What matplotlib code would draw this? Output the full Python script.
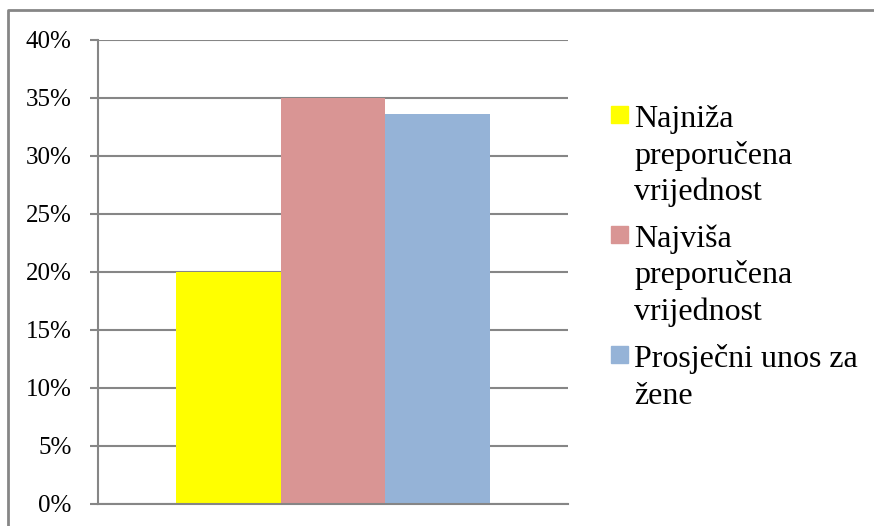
import numpy as np
import matplotlib
matplotlib.use('Agg')
import matplotlib.pyplot as plt
from matplotlib.patches import Rectangle
from matplotlib.lines import Line2D
from matplotlib.ticker import FuncFormatter

plt.rcParams['font.family'] = 'serif'
plt.rcParams['font.serif'] = ['Liberation Serif', 'Times New Roman', 'DejaVu Serif']

series = ['Najniža\npreporučena\nvrijednost',
          'Najviša\npreporučena\nvrijednost',
          'Prosječni unos za\nžene']
values = [20.0, 35.0, 33.6]
colors = ['#FFFF00', '#D99594', '#95B3D7']
yticks = [0, 5, 10, 15, 20, 25, 30, 35, 40]

W, H = 874, 526
fig = plt.figure(figsize=(W / 100, H / 100), dpi=100)
ax = fig.add_axes([98 / W, 1 - 504 / H, 470 / W, 464 / H])

# one category, three bars side by side (gap width 50%)
width = (2 / 3) / len(values)
offsets = (np.arange(len(values)) - (len(values) - 1) / 2) * width
for off, v, c in zip(offsets, values, colors):
    ax.bar(off, v, width=width, color=c, zorder=2)

ax.set_xlim(-0.5, 0.5)
ax.set_ylim(0, 40)
ax.set_yticks(yticks)
ax.yaxis.set_major_formatter(FuncFormatter(lambda v, p: f'{v:.0f}%'))
ax.set_xticks([])
ax.grid(axis='y', color='#868686', linewidth=1.5, zorder=0)
for s in ['top', 'right']:
    ax.spines[s].set_visible(False)
for s in ['left', 'bottom']:
    ax.spines[s].set_color('#868686')
    ax.spines[s].set_linewidth(1.5)
ax.tick_params(axis='y', direction='out', length=6, width=1.5, color='#868686',
               pad=13, labelsize=18)

# legend drawn by hand so the key sits next to the first line
for i, (lab, c) in enumerate(zip(series, colors)):
    base = 127 + i * 120
    fig.patches.append(Rectangle((611 / W, 1 - (base - 4) / H), 17 / W, 17 / H,
                                 transform=fig.transFigure, color=c))
    for j, line in enumerate(lab.split('\n')):
        fig.text(634 / W, 1 - (base + j * 36.5) / H, line, fontsize=23,
                 va='baseline', ha='left')

# chart area border (left and top only visible)
fig.lines.append(Line2D([8 / W, 8 / W, 1], [0, 1 - 9.5 / H, 1 - 9.5 / H],
                        transform=fig.transFigure, color='#868686', linewidth=2))

fig.savefig('out.png', dpi=100)
